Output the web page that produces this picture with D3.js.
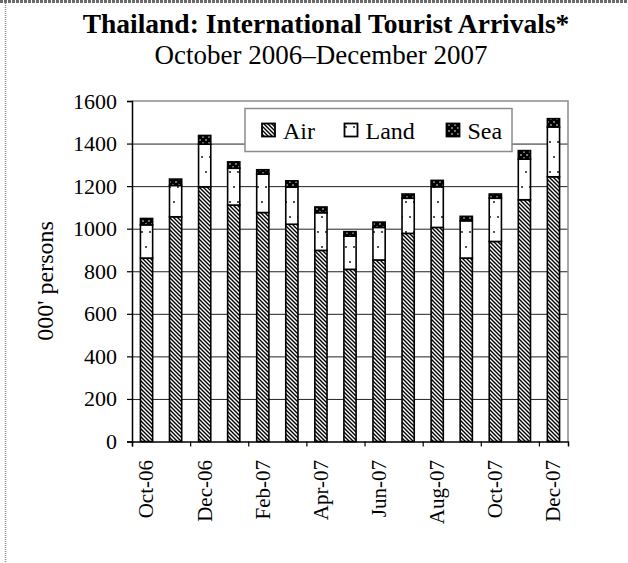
<!DOCTYPE html>
<html>
<head>
<meta charset="utf-8">
<script src="https://cdn.jsdelivr.net/npm/d3@7"></script>
<style>
  html, body { margin: 0; padding: 0; background: #fff; }
  svg { display: block; }
  text { font-family: "Liberation Serif", "Times New Roman", serif; fill: #000; }
</style>
</head>
<body>
<svg id="chart" width="628" height="563"></svg>
<script>
const months = ["Oct-06","Nov-06","Dec-06","Jan-07","Feb-07","Mar-07","Apr-07","May-07","Jun-07","Jul-07","Aug-07","Sep-07","Oct-07","Nov-07","Dec-07"];
const air  = [862, 1056, 1197, 1111, 1076, 1021, 898, 809, 853, 978, 1006, 862, 940, 1136, 1244];
const land = [156, 147, 200, 173, 180, 174, 177, 156, 153, 165, 191, 175, 203, 191, 234];
const sea  = [30, 30, 41, 30, 21, 30, 27, 21, 25, 20, 30, 21, 20, 40, 39];
const seriesNames = ["Air", "Land", "Sea"];
const yTicks = [0, 200, 400, 600, 800, 1000, 1200, 1400, 1600];
const labelMonths = ["Oct-06","Dec-06","Feb-07","Apr-07","Jun-07","Aug-07","Oct-07","Dec-07"];

const svg = d3.select("#chart");
const W = 628, H = 563;
const L = 132, R = 568, T = 101, B = 441.5;

svg.append("rect").attr("width", W).attr("height", H).attr("fill", "#fff");

// patterns
const defs = svg.append("defs");
const pAir = defs.append("pattern").attr("id", "pAir").attr("patternUnits", "userSpaceOnUse")
  .attr("width", 4).attr("height", 4);
pAir.append("rect").attr("width", 4).attr("height", 4).attr("fill", "#fff");
pAir.append("path").attr("d", "M-1,-1 L5,5 M-1,3 L1,5 M3,-1 L5,1")
  .attr("stroke", "#000").attr("stroke-width", 1.4);

const pLand = defs.append("pattern").attr("id", "pLand").attr("patternUnits", "userSpaceOnUse")
  .attr("width", 8).attr("height", 30);
pLand.append("rect").attr("width", 8).attr("height", 30).attr("fill", "#fff");
pLand.append("circle").attr("cx", 2).attr("cy", 7).attr("r", 0.9).attr("fill", "#000");
pLand.append("circle").attr("cx", 6).attr("cy", 22).attr("r", 0.9).attr("fill", "#000");

const pSea = defs.append("pattern").attr("id", "pSea").attr("patternUnits", "userSpaceOnUse")
  .attr("width", 6).attr("height", 6);
pSea.append("rect").attr("width", 6).attr("height", 6).attr("fill", "#000");
pSea.append("circle").attr("cx", 2).attr("cy", 2).attr("r", 0.8).attr("fill", "#fff");
pSea.append("circle").attr("cx", 5).attr("cy", 5).attr("r", 0.8).attr("fill", "#fff");

const fills = { Air: "url(#pAir)", Land: "url(#pLand)", Sea: "url(#pSea)" };

// frame
svg.append("line").attr("x1", 0).attr("x2", W).attr("y1", 1.5).attr("y2", 1.5)
  .attr("stroke", "#6a6a6a").attr("stroke-width", 3).attr("stroke-dasharray", "3,1");
svg.append("line").attr("x1", 5.5).attr("x2", 5.5).attr("y1", 3).attr("y2", H)
  .attr("stroke", "#8a8a8a").attr("stroke-width", 1.5).attr("stroke-dasharray", "1,1");

// title
svg.append("text").attr("x", 326).attr("y", 33).attr("text-anchor", "middle")
  .attr("font-size", 27.5).attr("font-weight", "bold")
  .text("Thailand: International Tourist Arrivals*");
svg.append("text").attr("x", 321).attr("y", 64).attr("text-anchor", "middle")
  .attr("font-size", 27)
  .text("October 2006\u2013December 2007");

// scales
const x = d3.scaleBand().domain(months).range([L, R]).paddingInner(0.58).paddingOuter(0.29);
const y = d3.scaleLinear().domain([0, 1600]).range([B, T]);
const xi = d3.scaleLinear().domain([0, months.length]).range([L, R]);

// gridlines
const grid = svg.append("g").attr("transform", `translate(${L},0)`)
  .call(d3.axisLeft(y).tickValues(yTicks.filter(v => v > 0 && v < 1600)).tickSize(-(R - L)).tickFormat(""));
grid.select(".domain").remove();
grid.selectAll("line").attr("stroke", "#222").attr("stroke-width", 1);

// plot border top/right gray
svg.append("path").attr("d", `M${L},${y(1600)}H${R}V${B}`)
  .attr("fill", "none").attr("stroke", "#8c8c8c").attr("stroke-width", 1.5);

// stacked bars
const data = months.map((m, i) => ({ month: m, Air: air[i], Land: land[i], Sea: sea[i] }));
const stack = d3.stack().keys(seriesNames)(data);
const gBars = svg.append("g");
stack.forEach(layer => {
  gBars.append("g").selectAll("rect").data(layer).join("rect")
    .attr("x", d => x(d.data.month))
    .attr("width", x.bandwidth())
    .attr("y", d => y(d[1]))
    .attr("height", d => y(d[0]) - y(d[1]))
    .attr("fill", fills[layer.key])
    .attr("stroke", "#000")
    .attr("stroke-width", 1.6);
});

// y axis
const yAx = svg.append("g").attr("transform", `translate(${L},0)`)
  .call(d3.axisLeft(y).tickValues(yTicks).tickSize(5).tickPadding(10).tickFormat(d3.format("d")));
yAx.select(".domain").attr("stroke", "#000").attr("stroke-width", 1.5);
yAx.selectAll("line").attr("stroke", "#000").attr("stroke-width", 1.2);
yAx.selectAll("text").attr("font-size", 22).attr("font-family", "Liberation Serif").attr("fill", "#000");

// x axis ticks at boundaries
const xTickAx = svg.append("g").attr("transform", `translate(0,${B})`)
  .call(d3.axisBottom(xi).tickValues(d3.range(0, months.length + 1, 2)).tickSize(5).tickFormat(""));
xTickAx.select(".domain").attr("stroke", "#000").attr("stroke-width", 1.5);
xTickAx.selectAll("line").attr("stroke", "#000").attr("stroke-width", 1.2);

// x labels
const xLab = svg.append("g").attr("transform", `translate(0,${B})`)
  .call(d3.axisBottom(x).tickValues(labelMonths).tickSize(0).tickPadding(0));
xLab.select(".domain").remove();
xLab.selectAll("text")
  .attr("font-size", 21).attr("font-family", "Liberation Serif").attr("fill", "#000")
  .attr("text-anchor", "end")
  .attr("transform", "rotate(-90)")
  .attr("x", -18.5).attr("y", 0).attr("dy", "0.33em");

// y axis title
svg.append("text").attr("transform", "translate(53,281) rotate(-90)")
  .attr("text-anchor", "middle").attr("font-size", 24).text("000' persons");

// legend
const lg = svg.append("g");
lg.append("rect").attr("x", 245).attr("y", 108.5).attr("width", 267).attr("height", 43)
  .attr("fill", "#fff").attr("stroke", "#8c8c8c").attr("stroke-width", 1.5);
const legX = { Air: 262, Land: 344.5, Sea: 446.5 };
seriesNames.forEach(k => {
  lg.append("rect").attr("x", legX[k]).attr("y", 123.5).attr("width", 13).attr("height", 13)
    .attr("fill", fills[k]).attr("stroke", "#000").attr("stroke-width", 1.8);
  lg.append("text").attr("x", legX[k] + 21).attr("y", 138.5).attr("font-size", 24).text(k);
});
</script>
</body>
</html>
